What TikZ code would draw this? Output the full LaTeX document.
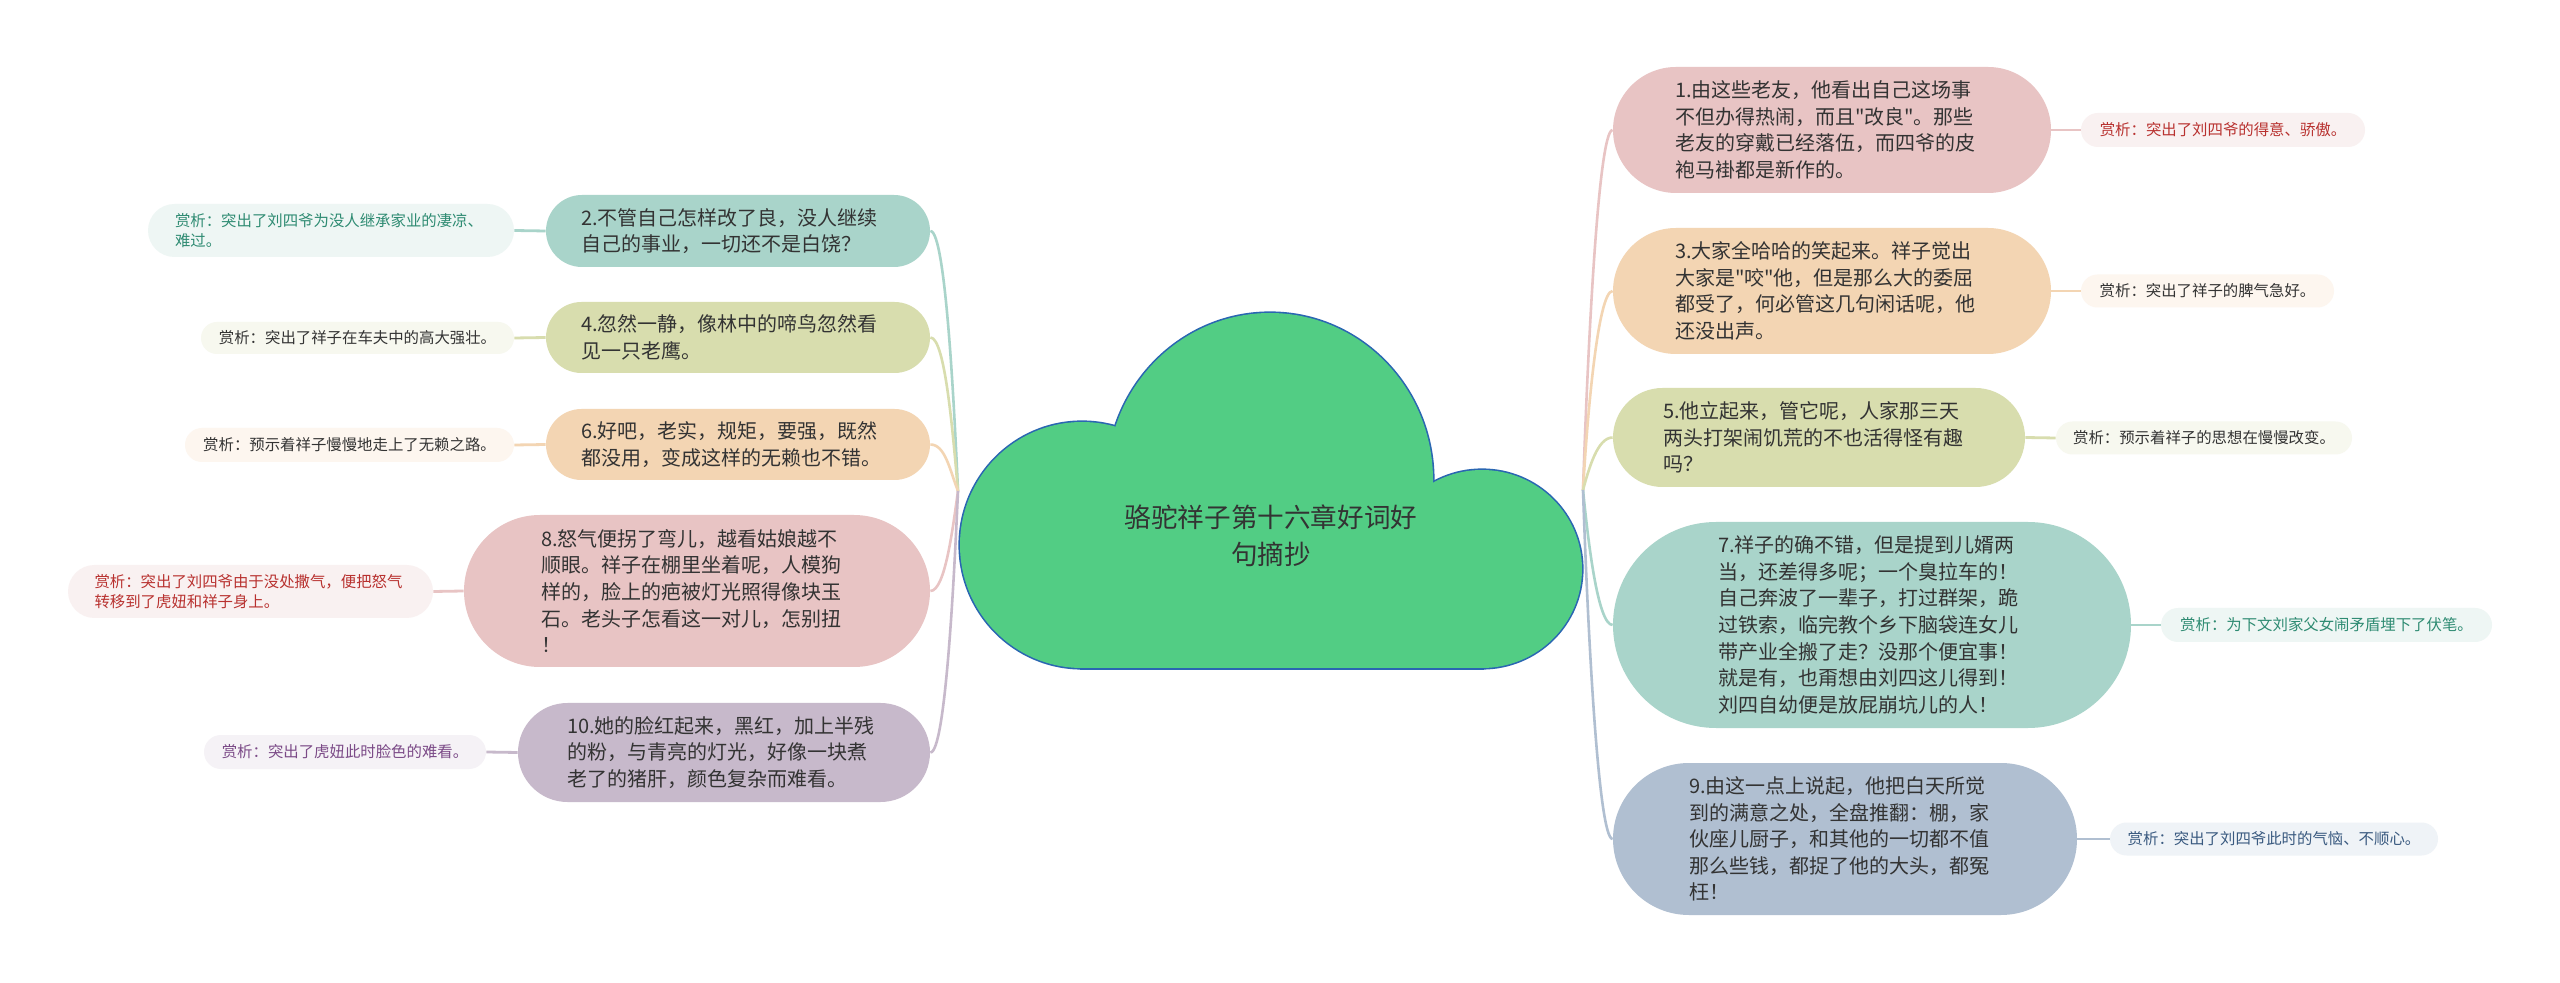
\documentclass[tikz,border=0pt]{standalone}
\usepackage{fontspec}
\setmainfont{Noto Sans CJK SC}[Ligatures=TeXOff]
\definecolor{pinkF}{HTML}{E8C4C4}
\definecolor{pinkL}{HTML}{F9F1F1}
\definecolor{pinkT}{HTML}{B8312F}
\definecolor{peachF}{HTML}{F3D5B3}
\definecolor{peachL}{HTML}{FDF6EF}
\definecolor{oliveF}{HTML}{D8DDAE}
\definecolor{oliveL}{HTML}{F7F8EF}
\definecolor{tealF}{HTML}{A9D4CA}
\definecolor{tealL}{HTML}{EEF6F4}
\definecolor{tealT}{HTML}{2E8B72}
\definecolor{blueF}{HTML}{B0BFD1}
\definecolor{blueL}{HTML}{EFF3F7}
\definecolor{blueT}{HTML}{3A5A80}
\definecolor{purpF}{HTML}{C7B9CB}
\definecolor{purpL}{HTML}{F5F2F6}
\definecolor{purpT}{HTML}{7B4A87}
\definecolor{txt}{HTML}{333333}
\definecolor{cloudF}{HTML}{52CD84}
\definecolor{cloudD}{HTML}{2A66B2}
\begin{document}
\begin{tikzpicture}[x=0.5pt,y=-0.5pt,
  mainbox/.style={draw=none, inner sep=0pt, font=\fontsize{10pt}{13.3pt}\selectfont, text=txt, align=left},
  labelbox/.style={draw=none, inner sep=0pt, font=\fontsize{7.7pt}{10pt}\selectfont, align=left},
  titlebox/.style={inner sep=0pt, font=\fontsize{13.3pt}{18.5pt}\selectfont, text=txt, align=center},
  conn/.style={line width=1.3pt},
  lconn/.style={line width=1.4pt},
  cloudpart/.style={fill=cloudF}]
\useasboundingbox (0,0) rectangle (2560,983);
\fill[white] (0,0) rectangle (2560,983);

% cloud: stroked pass, then fill pass
\begin{scope}[draw=cloudD, line width=1.6pt]
\path[draw, cloudpart] (1270,480) ellipse [x radius=163, y radius=167];
\path[draw, cloudpart] (1082,545) ellipse [x radius=122, y radius=123];
\path[draw, cloudpart] (1482,569) ellipse [x radius=100, y radius=99];
\path[draw, cloudpart] (1082,545) rectangle (1482,668);
\end{scope}
\path[cloudpart] (1270,480) ellipse [x radius=163, y radius=167];
\path[cloudpart] (1082,545) ellipse [x radius=122, y radius=123];
\path[cloudpart] (1482,569) ellipse [x radius=100, y radius=99];
\path[cloudpart] (1082,545) rectangle (1482,668);

\node[titlebox] (root) at (1271,536) {骆驼祥子第十六章好词好\\句摘抄};
\coordinate (JL) at (958,491);
\coordinate (JR) at (1583,490);

% left main nodes
\node[mainbox, fill=tealF, minimum width=192pt, minimum height=36pt, rounded corners=18pt, text width=157pt] (N2) at (738,231)
 {2.不管自己怎样改了良，没人继续\\自己的事业，一切还不是白饶？};
\node[mainbox, fill=oliveF, minimum width=192pt, minimum height=35.5pt, rounded corners=17.75pt, text width=157pt] (N4) at (738,337.5)
 {4.忽然一静，像林中的啼鸟忽然看\\见一只老鹰。};
\node[mainbox, fill=peachF, minimum width=192pt, minimum height=35.5pt, rounded corners=17.75pt, text width=157pt] (N6) at (738,444.5)
 {6.好吧，老实，规矩，要强，既然\\都没用，变成这样的无赖也不错。};
\node[mainbox, fill=pinkF, minimum width=233pt, minimum height=76pt, rounded corners=38pt, text width=156pt] (N8) at (697,591)
 {8.怒气便拐了弯儿，越看姑娘越不\\顺眼。祥子在棚里坐着呢，人模狗\\样的，脸上的疤被灯光照得像块玉\\石。老头子怎看这一对儿，怎别扭\\！};
\node[mainbox, fill=purpF, minimum width=206pt, minimum height=49.5pt, rounded corners=24.75pt, text width=157pt] (N10) at (724,752.5)
 {10.她的脸红起来，黑红，加上半残\\的粉，与青亮的灯光，好像一块煮\\老了的猪肝，颜色复杂而难看。};

% right main nodes
\node[mainbox, fill=pinkF, minimum width=219pt, minimum height=63pt, rounded corners=31.5pt, text width=157pt] (N1) at (1832,130)
 {1.由这些老友，他看出自己这场事\\不但办得热闹，而且"改良"。那些\\老友的穿戴已经落伍，而四爷的皮\\袍马褂都是新作的。};
\node[mainbox, fill=peachF, minimum width=219pt, minimum height=63pt, rounded corners=31.5pt, text width=157pt] (N3) at (1832,291)
 {3.大家全哈哈的笑起来。祥子觉出\\大家是"咬"他，但是那么大的委屈\\都受了，何必管这几句闲话呢，他\\还没出声。};
\node[mainbox, fill=oliveF, minimum width=206pt, minimum height=49.5pt, rounded corners=24.75pt, text width=156pt] (N5) at (1819,437.5)
 {5.他立起来，管它呢，人家那三天\\两头打架闹饥荒的不也活得怪有趣\\吗？};
\node[mainbox, fill=tealF, minimum width=259pt, minimum height=103pt, rounded corners=51.5pt, text width=154pt] (N7) at (1872,625)
 {7.祥子的确不错，但是提到儿婿两\\当，还差得多呢；一个臭拉车的！\\自己奔波了一辈子，打过群架，跪\\过铁索，临完教个乡下脑袋连女儿\\带产业全搬了走？没那个便宜事！\\就是有，也甭想由刘四这儿得到！\\刘四自幼便是放屁崩坑儿的人！};
\node[mainbox, fill=blueF, minimum width=232pt, minimum height=76pt, rounded corners=38pt, text width=156pt] (N9) at (1845,839)
 {9.由这一点上说起，他把白天所觉\\到的满意之处，全盘推翻：棚，家\\伙座儿厨子，和其他的一切都不值\\那么些钱，都捉了他的大头，都冤\\枉！};

% left labels
\node[labelbox, fill=tealL, text=tealT, minimum width=183pt, minimum height=26.5pt, rounded corners=13.25pt, text width=156pt] (L2) at (331,230.5)
 {赏析：突出了刘四爷为没人继承家业的凄凉、\\难过。};
\node[labelbox, fill=oliveL, text=txt, minimum width=156.5pt, minimum height=16pt, rounded corners=8pt] (L4) at (357.5,338)
 {赏析：突出了祥子在车夫中的高大强壮。};
\node[labelbox, fill=peachL, text=txt, minimum width=164.5pt, minimum height=17pt, rounded corners=8.5pt] (L6) at (349.5,445)
 {赏析：预示着祥子慢慢地走上了无赖之路。};
\node[labelbox, fill=pinkL, text=pinkT, minimum width=182.5pt, minimum height=26.5pt, rounded corners=13.25pt, text width=156pt] (L8) at (250.5,591.5)
 {赏析：突出了刘四爷由于没处撒气，便把怒气\\转移到了虎妞和祥子身上。};
\node[labelbox, fill=purpL, text=purpT, minimum width=141pt, minimum height=17pt, rounded corners=8.5pt] (L10) at (345,752)
 {赏析：突出了虎妞此时脸色的难看。};

% right labels
\node[labelbox, fill=pinkL, text=pinkT, minimum width=142pt, minimum height=17pt, rounded corners=8.5pt] (L1) at (2223,130)
 {赏析：突出了刘四爷的得意、骄傲。};
\node[labelbox, fill=peachL, text=txt, minimum width=126.5pt, minimum height=16.5pt, rounded corners=8.25pt] (L3) at (2207.5,291)
 {赏析：突出了祥子的脾气急好。};
\node[labelbox, fill=oliveL, text=txt, minimum width=148pt, minimum height=16.5pt, rounded corners=8.25pt] (L5) at (2204,438)
 {赏析：预示着祥子的思想在慢慢改变。};
\node[labelbox, fill=tealL, text=tealT, minimum width=165.5pt, minimum height=17pt, rounded corners=8.5pt] (L7) at (2326.5,625)
 {赏析：为下文刘家父女闹矛盾埋下了伏笔。};
\node[labelbox, fill=blueL, text=blueT, minimum width=164pt, minimum height=16.5pt, rounded corners=8.25pt] (L9) at (2274,839)
 {赏析：突出了刘四爷此时的气恼、不顺心。};

% connectors root -> main nodes
\draw[conn, tealF]  (N2.east)  .. controls +(15,0) and +(-4,-90) .. (JL);
\draw[conn, oliveF] (N4.east)  .. controls +(15,0) and +(-5,-55) .. (JL);
\draw[conn, peachF] (N6.east)  .. controls +(15,0) and +(-8,-20) .. (JL);
\draw[conn, pinkF]  (N8.east)  .. controls +(15,0) and +(-5,35) .. (JL);
\draw[conn, purpF]  (N10.east) .. controls +(15,0) and +(-4,90) .. (JL);
\draw[conn, pinkF]  (N1.west)  .. controls +(-15,0) and +(4,-120) .. (JR);
\draw[conn, peachF] (N3.west)  .. controls +(-15,0) and +(4,-70) .. (JR);
\draw[conn, oliveF] (N5.west)  .. controls +(-15,0) and +(6,-22) .. (JR);
\draw[conn, tealF]  (N7.west)  .. controls +(-15,0) and +(5,50) .. (JR);
\draw[conn, blueF]  (N9.west)  .. controls +(-15,0) and +(4,120) .. (JR);

% connectors main -> labels
\draw[lconn, tealF]  (N2.west) -- (L2.east);
\draw[lconn, oliveF] (N4.west) -- (L4.east);
\draw[lconn, peachF] (N6.west) -- (L6.east);
\draw[lconn, pinkF]  (N8.west) -- (L8.east);
\draw[lconn, purpF]  (N10.west) -- (L10.east);
\draw[lconn, pinkF]  (N1.east) -- (L1.west);
\draw[lconn, peachF] (N3.east) -- (L3.west);
\draw[lconn, oliveF] (N5.east) -- (L5.west);
\draw[lconn, tealF]  (N7.east) -- (L7.west);
\draw[lconn, blueF]  (N9.east) -- (L9.west);
\end{tikzpicture}
\end{document}
